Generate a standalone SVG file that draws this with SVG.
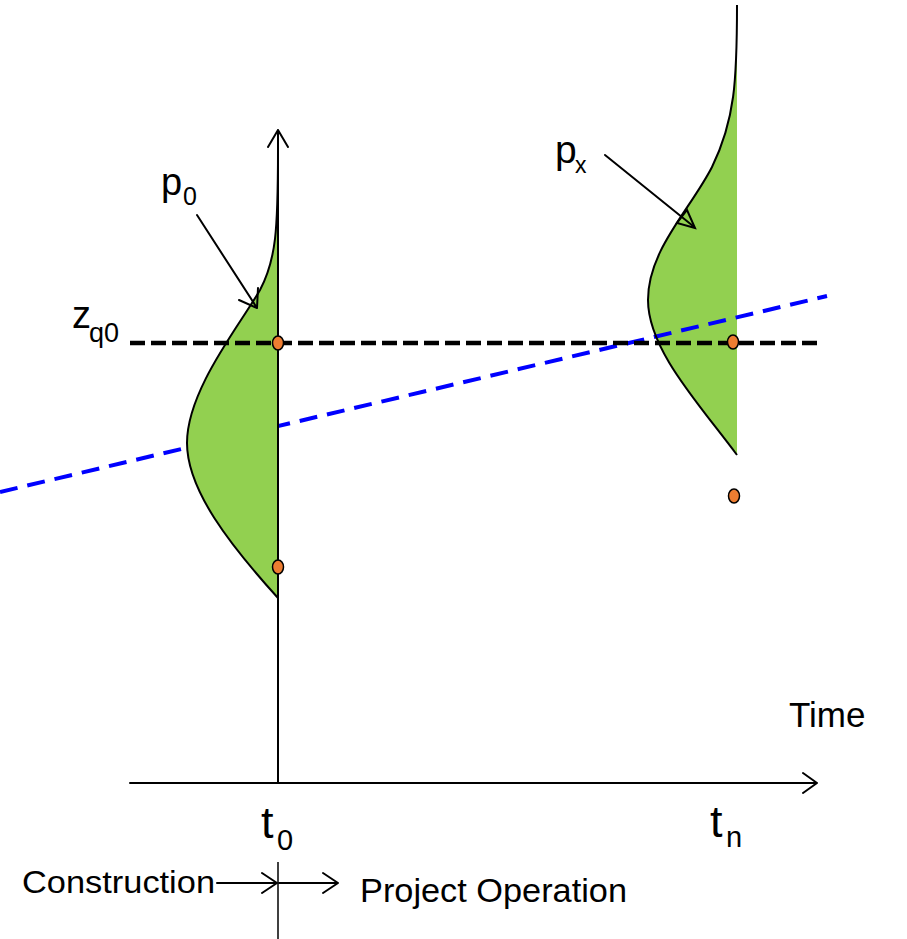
<svg xmlns="http://www.w3.org/2000/svg" width="907" height="939" viewBox="0 0 907 939">
<style>
text{font-family:"Liberation Sans",Arial,sans-serif;fill:#000}
.ax{stroke:#000;stroke-width:2;fill:none;stroke-linecap:round;stroke-linejoin:round}
.dot{fill:#ED7D31;stroke:#000;stroke-width:1.5}
.green{fill:#92D050}
</style>
<rect width="907" height="939" fill="#fff"/>
<g id="curve-px-fill">
<path class="green" d="M737 5 C737 80 735 120 712 167 C690 210 648 250 648 300 C648 350 700 405 737 455 Z"/>
</g>
<g id="trend-line">
<line x1="0" y1="492" x2="827" y2="296" stroke="#0000FF" stroke-width="4" stroke-dasharray="18 10"/>
</g>
<g id="curve-px">
<path d="M737 5 C737 80 735 120 712 167 C690 210 648 250 648 300 C648 350 700 405 737 455" fill="none" stroke="#000" stroke-width="2"/>
</g>
<g id="curve-p0">
<path class="green" d="M278 150 C278 230 276 260 260 290 C240 325 187 390 187 443 C187 490 230 545 278 598 Z" stroke="#000" stroke-width="2"/>
</g>
<g id="zq0-line">
<line x1="130" y1="343" x2="817" y2="343" stroke="#000" stroke-width="4.5" stroke-dasharray="15 6"/>
</g>
<g id="connectors">
<path class="ax" d="M278 783 V130 M268 147 L278 130 L288 147"/>
<path class="ax" d="M130 783 H817 M803 773 L817 783 L803 793"/>
<path d="M278 862 V939" stroke="#000" stroke-width="1.5"/>
<path class="ax" d="M197 215 L257 308 M239 300 L257 308 L258 288"/>
<path class="ax" d="M605 155 L693 226"/>
<polygon points="695,228 677,223 687,210" fill="none" stroke="#000" stroke-width="2"/>
<path class="ax" d="M217 883 H277 M262 873 L277 883 L262 893"/>
<path class="ax" d="M279 883 H338 M323 873 L338 883 L323 893"/>
</g>
<g id="dots">
<ellipse class="dot" cx="278" cy="343" rx="5.5" ry="7"/>
<ellipse class="dot" cx="278" cy="567" rx="5.5" ry="7"/>
<ellipse class="dot" cx="733" cy="342" rx="5.5" ry="7"/>
<ellipse class="dot" cx="734" cy="496" rx="5.5" ry="7"/>
</g>
<g id="labels">
<text><tspan x="161" y="195" font-size="38">p</tspan><tspan x="183" y="205" font-size="25">0</tspan></text>
<text><tspan x="555" y="163" font-size="39">p</tspan><tspan x="575" y="173" font-size="23">x</tspan></text>
<text><tspan x="72" y="328" font-size="38">z</tspan><tspan x="89" y="342" font-size="27">q0</tspan></text>
<text x="789" y="727" font-size="35">Time</text>
<text><tspan x="261" y="838" font-size="45">t</tspan><tspan x="277" y="850" font-size="29">0</tspan></text>
<text><tspan x="710" y="837" font-size="45">t</tspan><tspan x="726" y="847" font-size="29">n</tspan></text>
<text x="22" y="893" font-size="32" textLength="193" lengthAdjust="spacingAndGlyphs">Construction</text>
<text x="360" y="902" font-size="34" textLength="267" lengthAdjust="spacingAndGlyphs">Project Operation</text>
</g>
</svg>
